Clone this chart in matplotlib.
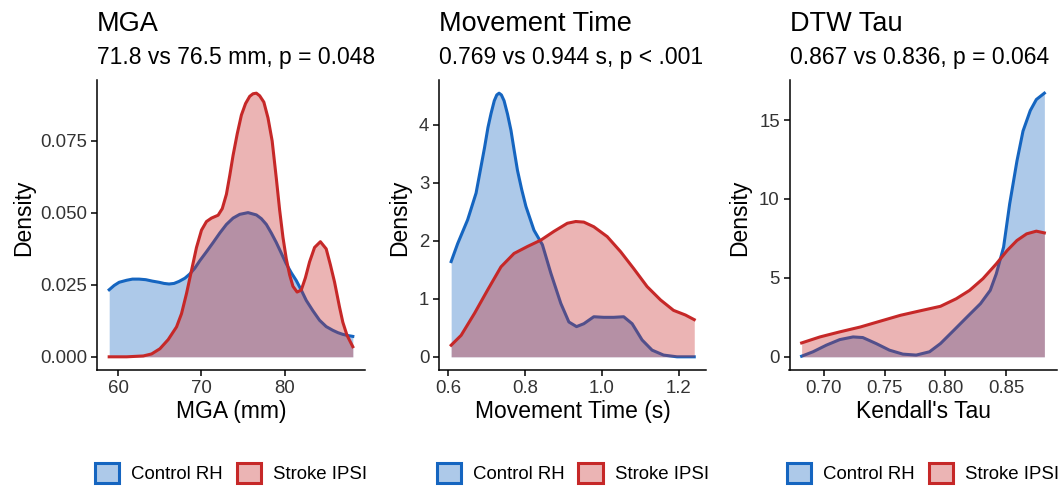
import matplotlib
matplotlib.use('Agg')
import matplotlib.pyplot as plt
from matplotlib.patches import Patch

plt.rcParams['font.family'] = ['Liberation Sans', 'DejaVu Sans']

# density curves (x, density)
mga_ctrl_x = [58.9, 59.5, 60.1, 61.0, 61.7, 62.5, 63.3, 64.1, 64.9, 65.5, 66.1, 66.7, 67.3, 68.0,
              68.6, 69.2, 69.8, 70.6, 71.4, 72.2, 73.0, 73.8, 74.6, 75.6, 76.6, 77.2, 77.8, 78.4,
              79.0, 79.6, 80.2, 80.8, 81.4, 82.0, 82.6, 83.4, 84.2, 85.0, 85.8, 86.4, 87.0, 87.6, 88.2]
mga_ctrl_y = [0.0233, 0.0248, 0.0259, 0.0266, 0.0270, 0.0270, 0.0268, 0.0263, 0.0259, 0.0255, 0.0253,
              0.0255, 0.0262, 0.0273, 0.0288, 0.0308, 0.0334, 0.0365, 0.0397, 0.0430, 0.0460, 0.0482,
              0.0495, 0.0501, 0.0493, 0.0480, 0.0460, 0.0430, 0.0397, 0.0360, 0.0323, 0.0292, 0.0265,
              0.0232, 0.0196, 0.0160, 0.0127, 0.0105, 0.0092, 0.0084, 0.0078, 0.0074, 0.0071]
mga_stroke_x = [58.9, 61.0, 63.0, 64.0, 65.0, 66.0, 67.0, 67.6, 68.2, 68.8, 69.4, 70.0, 70.6, 71.2,
                72.0, 72.5, 73.0, 73.4, 73.8, 74.3, 74.8, 75.3, 75.8, 76.2, 76.6, 77.0, 77.5, 78.0,
                78.5, 79.0, 79.4, 79.8, 80.2, 80.6, 81.0, 81.5, 82.0, 82.5, 83.0, 83.6, 84.3, 85.0,
                85.5, 86.0, 86.6, 87.0, 87.5, 88.2]
mga_stroke_y = [0.0000, 0.0000, 0.0003, 0.0010, 0.0028, 0.0060, 0.0104, 0.0150, 0.0220, 0.0300, 0.0380,
                0.0440, 0.0470, 0.0482, 0.0492, 0.0515, 0.0565, 0.0630, 0.0700, 0.0775, 0.0840, 0.0880,
                0.0905, 0.0914, 0.0916, 0.0907, 0.0885, 0.0830, 0.0750, 0.0620, 0.0510, 0.0415, 0.0340,
                0.0285, 0.0245, 0.0225, 0.0232, 0.0275, 0.0330, 0.0380, 0.0400, 0.0375, 0.0320, 0.0260,
                0.0173, 0.0120, 0.0075, 0.0035]

mt_ctrl_x = [0.607, 0.624, 0.650, 0.672, 0.694, 0.703, 0.711, 0.7195, 0.726, 0.732, 0.738, 0.745, 0.754,
             0.763, 0.771, 0.780, 0.791, 0.802, 0.823, 0.845, 0.867, 0.893, 0.914, 0.934, 0.953, 0.979,
             1.005, 1.031, 1.057, 1.079, 1.105, 1.131, 1.161, 1.196, 1.241]
mt_ctrl_y = [1.64, 1.95, 2.36, 2.82, 3.60, 3.95, 4.19, 4.41, 4.51, 4.54, 4.51, 4.41, 4.18, 3.90, 3.57,
             3.21, 2.88, 2.59, 2.18, 1.93, 1.44, 0.92, 0.60, 0.52, 0.57, 0.69, 0.68, 0.68, 0.69, 0.57,
             0.29, 0.115, 0.03, 0.0, 0.0]
mt_stroke_x = [0.607, 0.633, 0.668, 0.702, 0.737, 0.771, 0.806, 0.841, 0.875, 0.910, 0.932, 0.953, 0.979,
               1.014, 1.049, 1.083, 1.118, 1.153, 1.187, 1.218, 1.241]
mt_stroke_y = [0.20, 0.37, 0.75, 1.15, 1.55, 1.78, 1.90, 2.01, 2.16, 2.30, 2.33, 2.32, 2.24, 2.07, 1.81,
               1.52, 1.21, 0.98, 0.80, 0.72, 0.64]

tau_ctrl_x = [0.6816, 0.691, 0.702, 0.713, 0.724, 0.732, 0.743, 0.754, 0.765, 0.776, 0.787, 0.796, 0.807,
              0.818, 0.829, 0.837, 0.842, 0.848, 0.853, 0.859, 0.864, 0.870, 0.875, 0.8816]
tau_ctrl_y = [0.04, 0.32, 0.74, 1.09, 1.26, 1.22, 0.84, 0.42, 0.17, 0.11, 0.32, 0.84, 1.68, 2.53, 3.37,
              4.21, 5.26, 6.95, 9.68, 12.4, 14.3, 15.6, 16.3, 16.7]
tau_stroke_x = [0.6816, 0.6967, 0.713, 0.730, 0.746, 0.763, 0.779, 0.796, 0.809, 0.820, 0.831, 0.842,
                0.851, 0.859, 0.867, 0.875, 0.8816]
tau_stroke_y = [0.88, 1.26, 1.58, 1.89, 2.25, 2.63, 2.91, 3.20, 3.68, 4.21, 4.95, 5.89, 6.74, 7.37, 7.79,
                7.96, 7.85]

titles = ['MGA', 'Movement Time', 'DTW Tau']
subtitles = ['71.8 vs 76.5 mm, p = 0.048', '0.769 vs 0.944 s, p < .001', '0.867 vs 0.836, p = 0.064']
xlabels = ['MGA (mm)', 'Movement Time (s)', "Kendall's Tau"]
xticks = [[60, 70, 80], [0.6, 0.8, 1.0, 1.2], [0.70, 0.75, 0.80, 0.85]]
xticklabels = [['60', '70', '80'], ['0.6', '0.8', '1.0', '1.2'], ['0.70', '0.75', '0.80', '0.85']]
yticks = [[0, 0.025, 0.05, 0.075], [0, 1, 2, 3, 4], [0, 5, 10, 15]]
yticklabels = [['0.000', '0.025', '0.050', '0.075'], ['0', '1', '2', '3', '4'], ['0', '5', '10', '15']]
groups = ['Control RH', 'Stroke IPSI']

blue = '#1565C0'
red = '#C62828'
alpha = 0.35

panels = [
    (mga_ctrl_x, mga_ctrl_y, mga_stroke_x, mga_stroke_y),
    (mt_ctrl_x, mt_ctrl_y, mt_stroke_x, mt_stroke_y),
    (tau_ctrl_x, tau_ctrl_y, tau_stroke_x, tau_stroke_y),
]

W, H = 1062, 486
fig = plt.figure(figsize=(W / 100, H / 100), dpi=100)
lefts = [97, 439, 789.5]
widths = [268, 267.4, 267]
ylab_x = [24, 400, 740]
ax_bottom, ax_top = 370, 80

for i, (cx, cy, sx, sy) in enumerate(panels):
    ax = fig.add_axes([lefts[i] / W, (H - ax_bottom) / H, widths[i] / W, (ax_bottom - ax_top) / H])
    ax.fill_between(cx, cy, 0, color=blue, alpha=alpha, linewidth=0, zorder=1)
    ax.plot(cx, cy, color=blue, lw=2.2, zorder=2, solid_joinstyle='round')
    ax.fill_between(sx, sy, 0, color=red, alpha=alpha, linewidth=0, zorder=3)
    ax.plot(sx, sy, color=red, lw=2.2, zorder=4, solid_joinstyle='round')

    xmin = min(min(cx), min(sx))
    xmax = max(max(cx), max(sx))
    ymax = max(max(cy), max(sy))
    ax.set_xlim(xmin - 0.05 * (xmax - xmin), xmax + 0.05 * (xmax - xmin))
    ax.set_ylim(-0.05 * ymax, 1.05 * ymax)

    ax.set_xticks(xticks[i])
    ax.set_xticklabels(xticklabels[i])
    ax.set_yticks(yticks[i])
    ax.set_yticklabels(yticklabels[i])
    ax.tick_params(length=4, width=1.1, color='black', labelsize=13.4, labelcolor='#333333', pad=3)
    for s in ['top', 'right']:
        ax.spines[s].set_visible(False)
    for s in ['left', 'bottom']:
        ax.spines[s].set_linewidth(1.1)

    ax.set_xlabel(xlabels[i], fontsize=16.5, labelpad=2)
    fig.text(ylab_x[i] / W, 1 - 218 / H, 'Density', fontsize=16.5, rotation=90, ha='center', va='center')

    fig.text(lefts[i] / W, 1 - 31 / H, titles[i], fontsize=19.5, ha='left', va='baseline')
    fig.text(lefts[i] / W, 1 - 64 / H, subtitles[i], fontsize=16.5, ha='left', va='baseline')

    handles = [Patch(facecolor=(c, alpha), edgecolor=c, linewidth=2.2) for c in (blue, red)]
    ax.legend(handles, groups, loc='center', bbox_to_anchor=(0.5, -0.355), ncol=2, frameon=False,
              fontsize=13.4, handlelength=1.3, handleheight=1.25, handletextpad=0.65,
              columnspacing=0.75, borderaxespad=0)

fig.savefig('out.png', dpi=100)
